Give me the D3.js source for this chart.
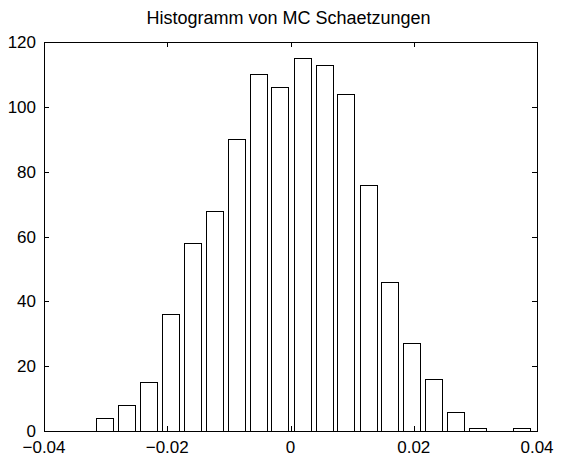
<!DOCTYPE html>
<html>
<head>
<meta charset="utf-8">
<script src="https://cdn.jsdelivr.net/npm/d3@7"></script>
<style>
  body { margin: 0; background: #fff; }
  text { font-family: "Liberation Sans", Arial, Helvetica, sans-serif; }
</style>
</head>
<body>
<div id="chart"></div>
<script>
// bin centres and counts
var binCenters = [-0.0301, -0.0266, -0.0230, -0.0195, -0.0159, -0.0123, -0.0088, -0.0052, -0.0017, 0.0019,
                  0.0055, 0.0090, 0.0126, 0.0161, 0.0197, 0.0233, 0.0268, 0.0304, 0.0339, 0.0375];
var counts = [4, 8, 15, 36, 58, 68, 90, 110, 106, 115,
              113, 104, 76, 46, 27, 16, 6, 1, 0, 1];
var xTicks = [-0.04, -0.02, 0, 0.02, 0.04];
var xTickLabels = ['\u22120.04', '\u22120.02', '0', '0.02', '0.04'];
var yTicks = [0, 20, 40, 60, 80, 100, 120];
var title = 'Histogramm von MC Schaetzungen';

var width = 561, height = 457,
  margin = {top: 42, right: 24, bottom: 26, left: 44},
  tickLen = 5;

var innerW = width - margin.left - margin.right,
  innerH = height - margin.top - margin.bottom;

var x = d3.scaleLinear().domain([-0.04, 0.04]).range([0, innerW]);
var y = d3.scaleLinear().domain([0, 120]).range([innerH, 0]);

// hist draws bars at 80% of the bin width
var binW = binCenters[1] - binCenters[0];
var barW = x(binW * 0.8) - x(0);

var svg = d3.select('#chart').append('svg')
  .attr('width', width).attr('height', height);

var g = svg.append('g')
  .attr('transform', 'translate(' + margin.left + ',' + margin.top + ')');

var data = binCenters.map(function(c, i) { return {c: c, n: counts[i]}; });

g.selectAll('rect.bar').data(data.filter(function(d) { return d.n > 0; }))
  .enter().append('rect').attr('class', 'bar')
  .attr('x', function(d) { return Math.round(x(d.c) - barW / 2) + 0.5; })
  .attr('y', function(d) { return Math.round(y(d.n)) + 0.5; })
  .attr('width', Math.round(barW))
  .attr('height', function(d) { return Math.round(innerH - y(d.n)); })
  .attr('fill', '#fff')
  .attr('stroke', '#000')
  .attr('stroke-width', 1);

// box
g.append('rect')
  .attr('x', 0.5).attr('y', 0.5)
  .attr('width', innerW).attr('height', innerH)
  .attr('fill', 'none').attr('stroke', '#000').attr('stroke-width', 1);

// x ticks (inside, bottom and top)
xTicks.forEach(function(t, i) {
  var px = Math.round(x(t)) + 0.5;
  g.append('line').attr('x1', px).attr('x2', px)
    .attr('y1', innerH).attr('y2', innerH - tickLen).attr('stroke', '#000');
  g.append('line').attr('x1', px).attr('x2', px)
    .attr('y1', 0).attr('y2', tickLen).attr('stroke', '#000');
  g.append('text')
    .attr('x', x(t)).attr('y', innerH + 22)
    .attr('text-anchor', 'middle')
    .attr('font-size', 17)
    .text(xTickLabels[i]);
});

// y ticks (inside, left and right)
yTicks.forEach(function(t) {
  var py = Math.round(y(t)) + 0.5;
  g.append('line').attr('x1', 0).attr('x2', tickLen)
    .attr('y1', py).attr('y2', py).attr('stroke', '#000');
  g.append('line').attr('x1', innerW).attr('x2', innerW - tickLen)
    .attr('y1', py).attr('y2', py).attr('stroke', '#000');
  g.append('text')
    .attr('x', -8).attr('y', y(t) + 6)
    .attr('text-anchor', 'end')
    .attr('font-size', 17)
    .text(t);
});

svg.append('text')
  .attr('x', margin.left + innerW / 2 - 2).attr('y', 24)
  .attr('text-anchor', 'middle')
  .attr('font-size', 18)
  .text(title);
</script>
</body>
</html>
